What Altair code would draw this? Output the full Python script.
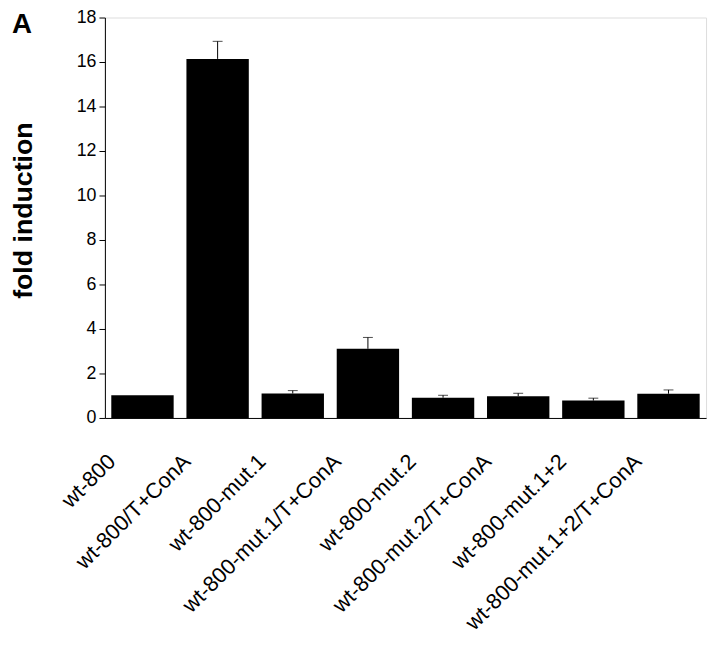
import altair as alt
import pandas as pd

categories = [
    "wt-800",
    "wt-800/T+ConA",
    "wt-800-mut.1",
    "wt-800-mut.1/T+ConA",
    "wt-800-mut.2",
    "wt-800-mut.2/T+ConA",
    "wt-800-mut.1+2",
    "wt-800-mut.1+2/T+ConA",
]
fold_induction = [1.02, 16.14, 1.10, 3.11, 0.91, 0.98, 0.78, 1.09]
error_up = [0.0, 0.79, 0.13, 0.51, 0.11, 0.13, 0.11, 0.17]
y_ticks = [0, 2, 4, 6, 8, 10, 12, 14, 16, 18]
panel_label = ["A"]

df = pd.DataFrame({"construct": categories, "value": fold_induction, "err": error_up})
df["upper"] = df["value"] + df["err"]

FONT = "Liberation Sans"

x_enc = alt.X(
    "construct:N",
    sort=categories,
    scale=alt.Scale(paddingInner=0.17, paddingOuter=0.085),
    axis=alt.Axis(
        title=None,
        labelAngle=-45,
        labelAlign="right",
        labelBaseline="middle",
        labelOffset=-31,
        labelPadding=40,
        ticks=False,
        tickSize=0,
        labelFontSize=22,
        labelFont=FONT,
        labelColor="black",
        labelLimit=400,
        domainColor="black",
        labelOverlap=False,
    ),
)

y_scale = alt.Scale(domain=[0, 18], nice=False)
y_axis = alt.Axis(
    values=y_ticks,
    grid=False,
    tickSize=6,
    tickColor="black",
    domainColor="black",
    labelFontSize=18,
    labelFont=FONT,
    labelColor="black",
    labelPadding=3,
    title="fold induction",
    titleFont=FONT,
    titleFontSize=27,
    titleFontWeight="bold",
    titleColor="black",
    titleAngle=-90,
    titleAlign="left",
    titleBaseline="alphabetic",
    titleX=-74,
    titleY=284,
)

base = alt.Chart(df)

bars = base.mark_bar(color="black").encode(
    x=x_enc,
    y=alt.Y("value:Q", scale=y_scale, axis=y_axis),
)

err_df = base.transform_filter("datum.err > 0")

err_rule = err_df.mark_rule(color="black", strokeWidth=1).encode(
    x=alt.X("construct:N", sort=categories),
    y="value:Q",
    y2="upper:Q",
)

err_cap = err_df.mark_tick(color="black", thickness=1, size=10, orient="horizontal").encode(
    x=alt.X("construct:N", sort=categories),
    y="upper:Q",
)

letter = alt.Chart(pd.DataFrame({"t": panel_label})).mark_text(
    font=FONT, fontSize=28, fontWeight="bold", align="left", baseline="top", color="black"
).encode(text="t:N", x=alt.value(-94), y=alt.value(-6))

chart = (
    alt.layer(bars, err_rule, err_cap, letter)
    .properties(
        width=608,
        height=405,
        autosize=alt.AutoSizeParams(type="none"),
        padding={"left": 98, "top": 6, "right": 6, "bottom": 228},
    )
    .configure_view(stroke="black", strokeWidth=1)
    .configure(background="white")
)

chart.save("out.html", embed_options={"renderer": "svg", "actions": False})
